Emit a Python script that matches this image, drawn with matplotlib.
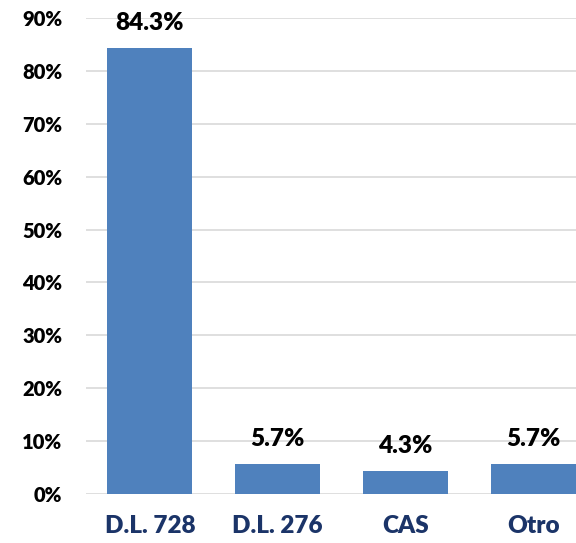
import numpy as np
import matplotlib
matplotlib.use('Agg')
import matplotlib.pyplot as plt
from matplotlib.ticker import PercentFormatter

# Data
categories = ['D.L. 728', 'D.L. 276', 'CAS', 'Otro']
values = [84.3, 5.7, 4.3, 5.7]
yticks = [0, 10, 20, 30, 40, 50, 60, 70, 80, 90]

plt.rcParams['font.family'] = ['Lato', 'DejaVu Sans']
W = 'heavy'

fig = plt.figure(figsize=(5.76, 5.43), dpi=100)
ax = fig.add_axes([86/576, 49/543, 511/576, 476/543])

x = np.arange(len(categories))
bars = ax.bar(x, values, width=0.664, color='#4F81BD', zorder=2)

for b, v in zip(bars, values):
    ax.annotate(f'{v:.1f}%', (b.get_x() + b.get_width()/2, v),
                textcoords='offset points', xytext=(0, 10),
                ha='center', va='bottom', fontsize=17.5, fontweight=W)

ax.set_xlim(-0.5, 3.5)
ax.set_ylim(0, 90)
ax.set_yticks(yticks)
ax.yaxis.set_major_formatter(PercentFormatter(decimals=0))
ax.set_xticks(x)
ax.set_xticklabels(categories, fontsize=17.5, fontweight=W, color='#1B3468')
for t in ax.get_yticklabels():
    t.set_fontsize(14.5)
    t.set_fontweight(W)
ax.tick_params(axis='y', length=0, pad=17)
ax.tick_params(axis='x', length=0, pad=15)
ax.grid(axis='y', color='#D9D9D9', linewidth=1.2, zorder=0)
for s in ax.spines.values():
    s.set_visible(False)

fig.savefig('out.png', dpi=100)
